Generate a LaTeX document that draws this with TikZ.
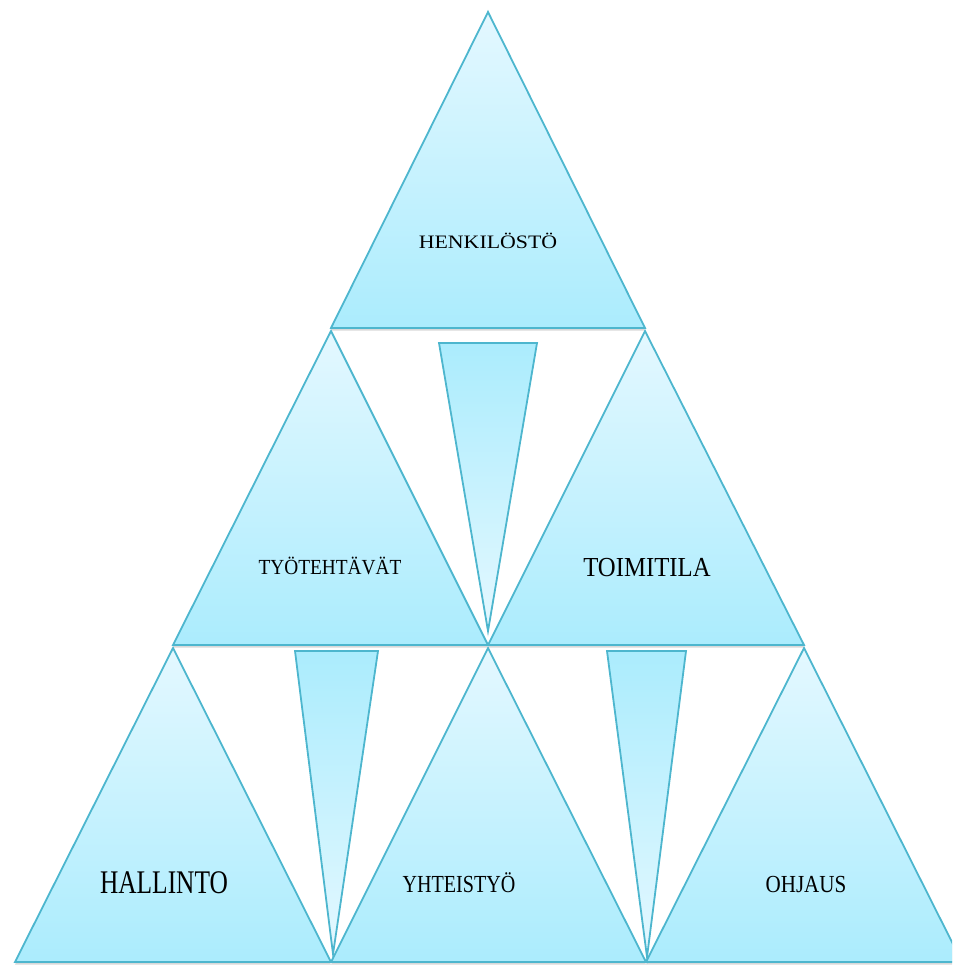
\documentclass[tikz,border=0pt]{standalone}
\usepackage{fontspec}
\setmainfont{Liberation Serif}
\usetikzlibrary{shadows}
\definecolor{TriEdge}{HTML}{4DB6CE}
\definecolor{TriLight}{HTML}{E4F8FF}
\definecolor{TriDeep}{HTML}{ABECFD}
\tikzset{
  tri/up/.style={
    draw=TriEdge, line width=1.8pt, line join=miter,
    top color=TriLight, bottom color=TriDeep,
    drop shadow={opacity=.3, shadow xshift=0pt, shadow yshift=-2.5pt}
  },
  tri/down/.style={tri/up, top color=TriDeep, bottom color=TriLight},
  tri/label/.style={text=black, inner sep=0pt, anchor=base}
}
\newcommand{\fsz}[1]{\fontsize{#1}{#1}\selectfont}

\begin{document}
\begin{tikzpicture}[x=1pt,y=-1pt]
  \useasboundingbox (0,0) rectangle (952,965);
  \clip (0,0) rectangle (952,965);
  % upright triangles, top to bottom
  \path[tri/up] (488,12) -- (645,328) -- (331,328) -- cycle;
  \path[tri/up] (331,331) -- (488,645) -- (173,645) -- cycle;
  \path[tri/up] (645,331) -- (804,645) -- (488,645) -- cycle;
  \path[tri/up] (173,648) -- (331,962) -- (15,962) -- cycle;
  \path[tri/up] (488,648) -- (646,962) -- (331,962) -- cycle;
  \path[tri/up] (804,648) -- (962,962) -- (646,962) -- cycle;
  % thin inverted wedges
  \path[tri/down] (439,343) -- (537,343) -- (488,631) -- cycle;
  \path[tri/down] (295,651) -- (378,651) -- (333,954) -- cycle;
  \path[tri/down] (607,651) -- (686,651) -- (647,957) -- cycle;
  % labels
  \node[tri/label,xscale=1.15] (henk) at (488,249) {\fsz{19}HENKILÖSTÖ};
  \node[tri/label,xscale=.9] (tyot) at (330,574) {\fsz{21.5}TYÖTEHTÄVÄT};
  \node[tri/label,xscale=.9] (toim) at (647,576) {\fsz{27.5}TOIMITILA};
  \node[tri/label,xscale=.77] (hall) at (164,893) {\fsz{33}HALLINTO};
  \node[tri/label,xscale=.82] (yhte) at (459,892) {\fsz{24.5}YHTEISTYÖ};
  \node[tri/label,xscale=.86] (ohja) at (806,892) {\fsz{24.5}OHJAUS};
\end{tikzpicture}
\end{document}
